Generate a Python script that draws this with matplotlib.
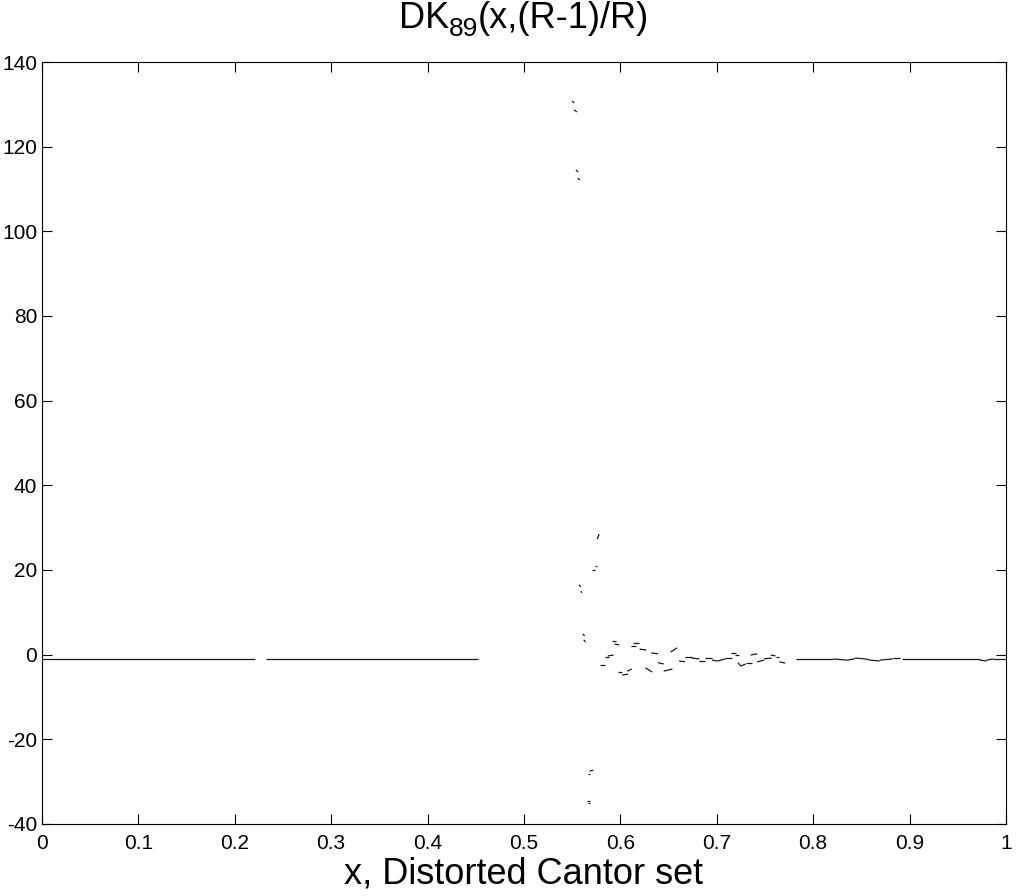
import numpy as np
import matplotlib
matplotlib.use('Agg')
import matplotlib.pyplot as plt
from matplotlib.collections import LineCollection

plt.rcParams['font.family'] = ['Liberation Sans', 'DejaVu Sans']
plt.rcParams['axes.unicode_minus'] = False

# short pieces of DK_89(x,(R-1)/R): start x, end x, start y, end y
seg_x0 = [0.000, 0.232,
          0.550, 0.552, 0.554, 0.556, 0.578, 0.574, 0.571, 0.557, 0.559, 0.561, 0.562,
          0.568, 0.566, 0.565, 0.566,
          0.591, 0.594, 0.613, 0.611, 0.620, 0.632, 0.652, 0.639, 0.626, 0.645,
          0.661, 0.667, 0.674, 0.682, 0.688, 0.695, 0.701, 0.709, 0.715, 0.719,
          0.722, 0.725, 0.730, 0.735, 0.742, 0.749, 0.756, 0.761, 0.765,
          0.584, 0.587, 0.579, 0.598, 0.602, 0.607,
          0.782, 0.821, 0.835, 0.843, 0.854, 0.859, 0.869, 0.883, 0.892, 0.973, 0.980, 0.987]
seg_x1 = [0.221, 0.452,
          0.552, 0.555, 0.556, 0.558, 0.576, 0.576, 0.574, 0.559, 0.560, 0.563, 0.564,
          0.572, 0.569, 0.568, 0.568,
          0.595, 0.599, 0.619, 0.616, 0.627, 0.639, 0.659, 0.645, 0.633, 0.654,
          0.667, 0.674, 0.682, 0.688, 0.695, 0.701, 0.709, 0.716, 0.720, 0.723,
          0.725, 0.730, 0.737, 0.742, 0.749, 0.757, 0.761, 0.765, 0.771,
          0.588, 0.593, 0.584, 0.602, 0.608, 0.612,
          0.821, 0.835, 0.843, 0.854, 0.859, 0.869, 0.883, 0.890, 0.973, 0.980, 0.987, 1.000]
seg_y0 = [-1.0, -1.0,
          130.8, 128.7, 114.5, 112.6, 28.5, 20.9, 20.0, 16.5, 15.0, 4.9, 3.5,
          -27.5, -28.2, -34.6, -35.0,
          3.2, 2.5, 2.8, 2.1, 1.3, 0.4, 0.6, -1.9, -3.1, -3.9,
          -1.5, -0.5, -0.8, -1.5, -0.8, -1.3, -1.5, -0.8, 0.4, -0.1,
          -1.9, -2.7, -1.9, -0.1, -1.7, -1.0, -0.1, -0.5, -1.7,
          -0.6, -0.3, -2.4, -4.1, -4.8, -3.9,
          -1.0, -1.0, -1.3, -0.8, -1.0, -1.3, -1.3, -0.8, -1.0, -1.3, -1.3, -1.0]
seg_y1 = [-1.0, -1.0,
          130.3, 128.2, 114.0, 112.1, 27.3, 20.9, 20.0, 16.0, 14.6, 4.4, 3.0,
          -27.3, -28.2, -34.6, -35.0,
          3.2, 2.3, 2.8, 2.1, 1.1, 0.2, 1.6, -2.2, -4.1, -3.4,
          -1.7, -0.5, -1.0, -1.5, -0.8, -1.5, -1.0, -0.8, 0.4, -0.1,
          -2.7, -2.2, -1.9, 0.2, -1.3, -0.8, -0.3, -0.5, -2.0,
          -0.6, -0.1, -2.4, -4.1, -4.6, -3.4,
          -1.0, -1.3, -1.0, -1.0, -1.3, -1.5, -1.0, -0.8, -1.0, -1.5, -1.0, -1.0]

xticks = np.arange(0, 1.01, 0.1)
xtick_labels = ['0', '0.1', '0.2', '0.3', '0.4', '0.5', '0.6', '0.7', '0.8', '0.9', '1']
yticks = np.arange(-40, 141, 20)

# title in three pieces so the subscript sits low, as in MATLAB
title_parts = ['DK', '89', '(x,(R-1)/R)']
title_sizes = [26, 19, 26]
title_drop = [0, 8, 0]  # pixels below the main baseline

fig = plt.figure(figsize=(10.16, 8.96), dpi=100)
ax = fig.add_axes([0.0413, 0.0804, 0.9488, 0.8504])

segs = [[(a, c), (b, d)] for a, b, c, d in zip(seg_x0, seg_x1, seg_y0, seg_y1)]
ax.add_collection(LineCollection(segs, colors='#1a1a1a', linewidths=0.9))

ax.set_xlim(0, 1)
ax.set_ylim(-40, 140)
ax.set_xticks(xticks)
ax.set_xticklabels(xtick_labels)
ax.set_yticks(yticks)
ax.tick_params(direction='in', length=7.2, width=0.8, labelsize=15,
               top=True, right=True)
ax.tick_params(axis='x', pad=7)
ax.tick_params(axis='y', pad=3.5)
for s in ax.spines.values():
    s.set_linewidth(0.8)

ax.set_xlabel('x, Distorted Cantor set', fontsize=26, labelpad=3)

# place title pieces centred over the axes
renderer = fig.canvas.get_renderer()
W, H = fig.bbox.width, fig.bbox.height
texts = []
widths = []
for s, fs in zip(title_parts, title_sizes):
    t = fig.text(0, 0, s, fontsize=fs, va='baseline', ha='left')
    widths.append(t.get_window_extent(renderer).width)
    texts.append(t)
ax_bb = ax.get_window_extent(renderer)
x = (ax_bb.x0 + ax_bb.x1) / 2 - sum(widths) / 2
base = H - 28
for t, w, d in zip(texts, widths, title_drop):
    t.set_position((x / W, (base - d) / H))
    x += w

fig.savefig('out.png', dpi=100)
